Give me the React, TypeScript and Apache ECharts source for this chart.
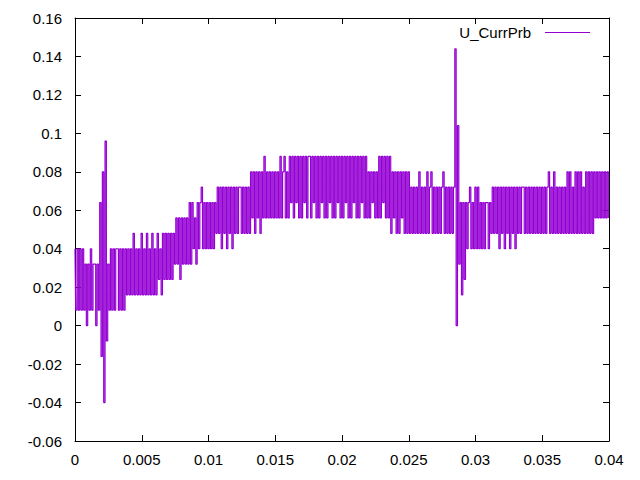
import React, { useEffect, useRef } from "react";
import * as echarts from "echarts";

const SERIES_NAME = "U_CurrPrb";
const SAMPLE_DT = 0.0001; // seconds between samples
const LEVEL_STEP = 0.008; // quantisation step of the probe reading

// Probe readings in quantisation levels (value = level * LEVEL_STEP), 0.005 s per block
const seg0 = [5,1,5,1,5,1,5, 1,4,0,4,1,5,1,4,4,0,4,1, 8,-2,10,-5,12,-1,4,1, 5,1,5,1,5,5,1,5,1,5,1,5, 2,5,2,5,2,6,2,5,2,5,2];
const seg1 = [6,2,5,2,6,2,5,2,6,2,5,2,6,3,5,2,6, 3,6,3,6,3,6,3,6,4, 7,4,7,3,7,4,7,4,7,4, 8,4,8,5,7,4,8,5,8, 9,5,8,5,8];
const seg2 = [5,8,5,8,5,8, 6,9,6,9,5,9,6,9,5,9,6,9,5,9,6,9,6,9,9,6,9,6,9,6,9, 6,10,7,10,6,10,7,10,6,10,7,11,7,10,7,10,7,10,7];
const seg3 = [10,7,10,7,11,7,10,11,7,10,7, 11,8,11,7,11,8,11,7,11,7,11,8,11,7,11,11,7,11,8,11,7,11,7,11,8,11,7,11,7,11,8,11,7,11,7,11,8,11,7];
const seg4 = [11,7,11,8,11,7,11,7,11,8,11,7,11,7,11,8,11,7,11,7, 10,7,10,8,10,7,10,7, 11,7,11,8,11,7,11,7,11, 6,10,7,10,6,10,6,10,7,10,6,10,6];
const seg5 = [10,6,9, 6,9,6,9,6,10,6,9,6,9,6,10,6,9,10,6,9,6,9,6,9,6,9,10,6,9,6,9,6,9,6,9, 18,0,13,4,8,2,8,3,8, 5,8,9,5,8,5];
const seg6 = [9,5,9,5,8,5,8,5,8,8,5,8, 6,9,6,9,6,9,5,9,6,9,5,9,6,9,5,9,6,9,5,9,6,9,6,9,9,6,9,6,9,6,9,6,9,6,9,6,9,6];
const seg7 = [9,6,9,6,9,10,6,9,6,10,6,9,6,9,6,9,6,9,6, 10,6,10,6,9,6,10,6,10,6,10,6,9,6,10,6,10,6,10,6,10, 7,10,7,10,7,10,7,10,7,10,7];

const levels = [...seg0, ...seg1, ...seg2, ...seg3, ...seg4, ...seg5, ...seg6, ...seg7];

const FONT = "'Liberation Sans', Arial, sans-serif";
const COLOR = "#9400d3";

const fmt = (d: number) => (v: number) => String(parseFloat(v.toFixed(d)));

export default function App() {
  const ref = useRef<HTMLDivElement>(null);
  useEffect(() => {
    if (!ref.current) return;
    const chart = echarts.init(ref.current, undefined, { renderer: "svg" });
    const data = levels.map((k, i) => [
      parseFloat((i * SAMPLE_DT).toFixed(5)),
      parseFloat((k * LEVEL_STEP).toFixed(4)),
    ]);
    const axisCommon = {
      axisLine: { show: true, onZero: false, lineStyle: { color: "#000", width: 1 } },
      axisTick: { show: true, inside: true, length: 6, lineStyle: { color: "#000", width: 1 } },
      splitLine: { show: false },
    };
    const xBase = { type: "value", min: 0, max: 0.04, interval: 0.005, ...axisCommon };
    const yBase = { type: "value", min: -0.06, max: 0.16, interval: 0.02, ...axisCommon };
    chart.setOption({
      animation: false,
      textStyle: { fontFamily: FONT },
      grid: { left: 75, right: 31, top: 18, bottom: 39, containLabel: false },
      legend: {
        data: [{ name: SERIES_NAME, icon: "rect" }],
        right: 50,
        top: 25,
        padding: 0,
        align: "right",
        itemWidth: 45,
        itemHeight: 1,
        itemStyle: { color: COLOR },
        textStyle: { fontSize: 15, color: "#000", fontFamily: FONT, padding: [0, 9, 0, 0] },
      },
      xAxis: [
        {
          ...xBase,
          position: "bottom",
          axisLabel: { margin: 11, fontSize: 15, color: "#000", fontFamily: FONT, formatter: fmt(4) },
        },
        { ...xBase, position: "top", axisLabel: { show: false } },
      ],
      yAxis: [
        {
          ...yBase,
          position: "left",
          axisLabel: { margin: 13, fontSize: 15, color: "#000", fontFamily: FONT, formatter: fmt(3) },
        },
        { ...yBase, position: "right", axisLabel: { show: false } },
      ],
      series: [
        {
          name: SERIES_NAME,
          type: "line",
          step: "middle",
          xAxisIndex: 0,
          yAxisIndex: 0,
          data,
          symbol: "none",
          showSymbol: false,
          lineStyle: { color: COLOR, width: 1.2 },
          itemStyle: { color: COLOR },
        },
      ],
    });
    return () => chart.dispose();
  }, []);
  return (
    <div
      ref={ref}
      style={{ position: "fixed", left: 0, top: 0, width: 640, height: 480, background: "#fff" }}
    />
  );
}
